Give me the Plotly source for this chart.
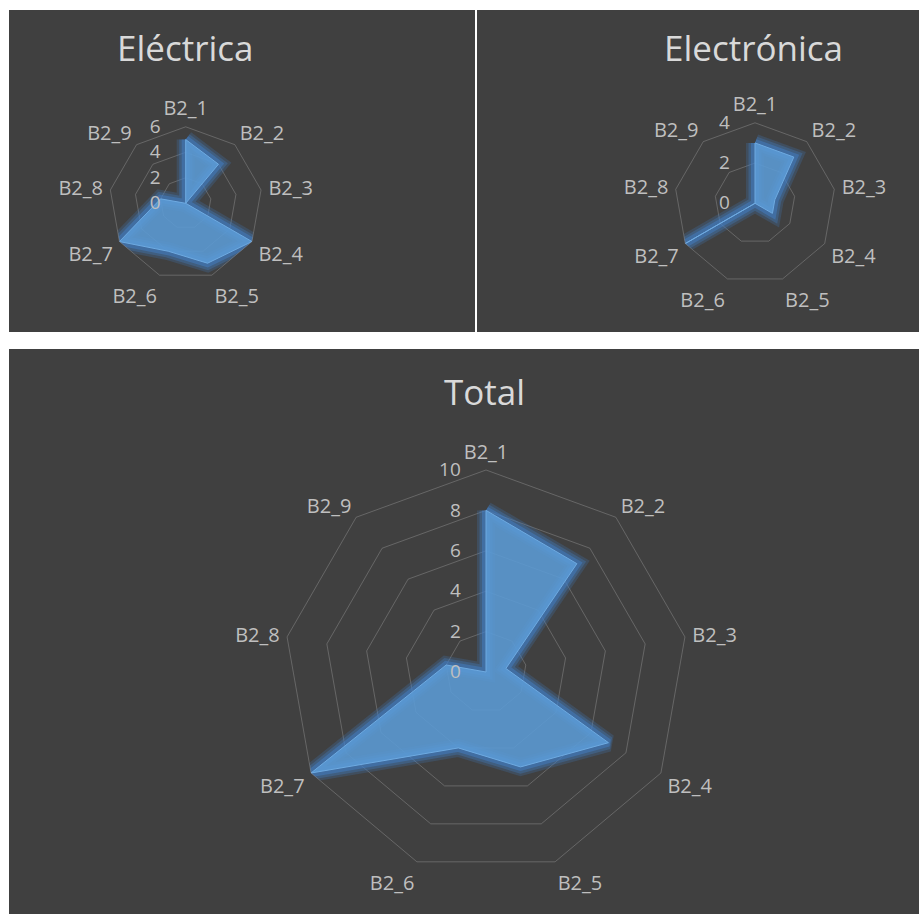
import plotly.graph_objects as go

# Survey item categories and counts per group
categories = ["B2_1", "B2_2", "B2_3", "B2_4", "B2_5", "B2_6", "B2_7", "B2_8", "B2_9"]
electrica = [5, 4, 0, 6, 5, 4, 6, 2, 0]
electronica = [3, 3, 1, 1, 0, 0, 4, 0, 0]
total = [8, 7, 1, 7, 5, 4, 10, 2, 0]

titles = ["Eléctrica", "Electrónica", "Total"]
radial_max = [6, 4, 10]

W, H = 919, 914
BG = "#404040"
GRID = "rgba(160,160,160,0.40)"
TEXT = "#bfbfbf"
TITLE = "#d9d9d9"
FILL = "rgba(91,155,213,0.88)"
EDGE = "rgb(110,170,225)"
GLOW = "rgba(66,128,200,{a})"
FONT = "Open Sans"


def px_x(x):
    return x / W


def px_y(y):
    return 1 - y / H


def square_domain(cx, cy, r):
    return dict(x=[px_x(cx - r), px_x(cx + r)], y=[px_y(cy + r), px_y(cy - r)])


fig = go.Figure()

series = [electrica, electronica, total]
polar_names = ["polar", "polar2", "polar3"]

for vals, pname in zip(series, polar_names):
    r = vals + vals[:1]
    th = categories + categories[:1]
    # soft halo around the filled area
    for w, a in [(18, 0.22), (13, 0.32), (8, 0.48)]:
        fig.add_trace(go.Scatterpolar(
            r=r, theta=th, mode="lines", subplot=pname,
            line=dict(color=GLOW.format(a=a), width=w),
            hoverinfo="skip", showlegend=False,
        ))
    fig.add_trace(go.Scatterpolar(
        r=r, theta=th, mode="lines", fill="toself", subplot=pname,
        fillcolor=FILL, line=dict(color=EDGE, width=1),
        showlegend=False,
    ))

# panel geometry (pixel centres and outer radii)
centres = [(185.7, 203.3, 76.5), (755.0, 203.3, 80.5), (486.0, 672.0, 202.0)]

polar_common = dict(
    bgcolor="rgba(0,0,0,0)",
    gridshape="linear",
)

for pname, (cx, cy, rad), rmax in zip(polar_names, centres, radial_max):
    fig.update_layout(**{pname: dict(
        domain=square_domain(cx, cy, rad),
        **polar_common,
        radialaxis=dict(
            range=[0, rmax], dtick=2, tick0=0,
            angle=90, side="counterclockwise",
            showline=False, showgrid=True, gridcolor=GRID, gridwidth=1,
            ticks="outside", ticklen=18, tickcolor="rgba(0,0,0,0)",
            tickangle=90,
            tickfont=dict(family=FONT, size=19, color=TEXT),
            layer="above traces",
        ),
        angularaxis=dict(
            type="category", categoryarray=categories,
            rotation=90, direction="clockwise",
            showline=True, linecolor=GRID, linewidth=1,
            showgrid=False,
            ticks="outside", ticklen=3, tickcolor="rgba(0,0,0,0)",
            tickfont=dict(family=FONT, size=20, color=TEXT),
            layer="above traces",
        ),
    )})

# dark chart panels
panels = [(9, 10, 475, 332), (477, 10, 919, 332), (9, 349, 919, 914)]
shapes = [
    dict(type="rect", xref="paper", yref="paper",
         x0=px_x(x0), x1=px_x(x1), y0=px_y(y1), y1=px_y(y0),
         fillcolor=BG, line=dict(width=0), layer="below")
    for x0, y0, x1, y1 in panels
]

title_pos = [(185, 47), (753, 47), (484, 391)]
annotations = [
    dict(text=t, x=px_x(x), y=px_y(y), xref="paper", yref="paper",
         xanchor="center", yanchor="middle", showarrow=False,
         font=dict(family=FONT, size=35, color=TITLE))
    for t, (x, y) in zip(titles, title_pos)
]

fig.update_layout(
    width=W, height=H,
    margin=dict(l=0, r=0, t=0, b=0),
    paper_bgcolor="white",
    plot_bgcolor="white",
    shapes=shapes,
    annotations=annotations,
    showlegend=False,
)

fig.write_html("out.html")
